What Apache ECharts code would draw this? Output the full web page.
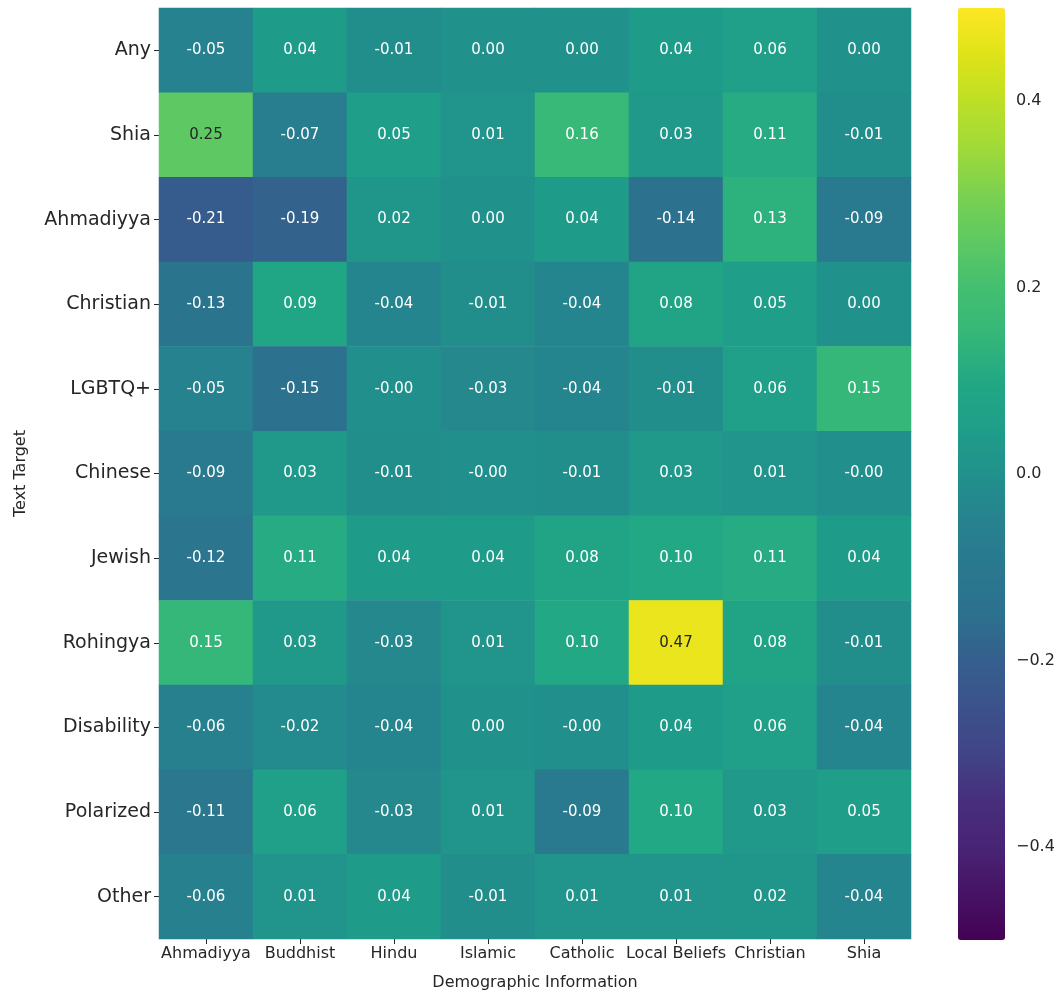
<!DOCTYPE html>
<html>
<head>
<meta charset="utf-8">
<script src="https://cdn.jsdelivr.net/npm/echarts@6/dist/echarts.min.js"></script>
<style>html,body{margin:0;padding:0;background:#fff;}#c{width:1061px;height:996px;}</style>
</head>
<body>
<div id="c"></div>
<script>
const demographics = ['Ahmadiyya', 'Buddhist', 'Hindu', 'Islamic', 'Catholic', 'Local Beliefs', 'Christian', 'Shia'];
const targets = ['Any', 'Shia', 'Ahmadiyya', 'Christian', 'LGBTQ+', 'Chinese', 'Jewish', 'Rohingya', 'Disability', 'Polarized', 'Other'];
const rowAny        = [-0.05,  0.04, -0.01,  0.00,  0.00,  0.04, 0.06,  0.00];
const rowShia       = [ 0.25, -0.07,  0.05,  0.01,  0.16,  0.03, 0.11, -0.01];
const rowAhmadiyya  = [-0.21, -0.19,  0.02,  0.00,  0.04, -0.14, 0.13, -0.09];
const rowChristian  = [-0.13,  0.09, -0.04, -0.01, -0.04,  0.08, 0.05,  0.00];
const rowLGBTQ      = [-0.05, -0.15, -0.002, -0.03, -0.04, -0.01, 0.06,  0.15];
const rowChinese    = [-0.09,  0.03, -0.01, -0.002, -0.01,  0.03, 0.01, -0.002];
const rowJewish     = [-0.12,  0.11,  0.04,  0.04,  0.08,  0.10, 0.11,  0.04];
const rowRohingya   = [ 0.15,  0.03, -0.03,  0.01,  0.10,  0.47, 0.08, -0.01];
const rowDisability = [-0.06, -0.02, -0.04,  0.00, -0.002, 0.04, 0.06, -0.04];
const rowPolarized  = [-0.11,  0.06, -0.03,  0.01, -0.09,  0.10, 0.03,  0.05];
const rowOther      = [-0.06,  0.01,  0.04, -0.01,  0.01,  0.01, 0.02, -0.04];
const colorbarTicks = [-0.4, -0.2, 0.0, 0.2, 0.4];

const rows = [rowAny, rowShia, rowAhmadiyya, rowChristian, rowLGBTQ, rowChinese, rowJewish, rowRohingya, rowDisability, rowPolarized, rowOther];
const viridis = ['#440154','#471365','#482475','#472f7d','#414487','#3b528b','#355f8d','#2c718e','#2a788e','#26828e','#21918c','#1f9e89','#22a884','#35b779','#44bf70','#5ec962','#7ad151','#a0da39','#bddf26','#dfe318','#fde725'];

const data = [];
rows.forEach((r, yi) => r.forEach((v, xi) => {
  data.push({ value: [xi, yi, v], label: { color: v > 0.2 ? '#262626' : '#ffffff' } });
}));

function fmt(v) {
  const s = Math.abs(v).toFixed(2);
  return (v < 0 ? '-' : '') + s;
}
const FONT = 'DejaVu Sans';
const chart = echarts.init(document.getElementById('c'), null, { renderer: 'canvas' });
chart.setOption({
  backgroundColor: '#ffffff',
  animation: false,
  textStyle: { fontFamily: FONT },
  grid: [
    { left: 159, right: 150, top: 8, bottom: 56 },
    { left: 958, width: 47, top: 8, height: 932 }
  ],
  xAxis: [
    {
      type: 'category', data: demographics, gridIndex: 0,
      name: 'Demographic Information', nameLocation: 'middle', nameGap: 36,
      nameTextStyle: { fontSize: 16, color: '#262626', fontFamily: FONT },
      axisLine: { show: false },
      axisTick: { show: true, alignWithLabel: true, length: 5, lineStyle: { color: '#262626' } },
      axisLabel: { fontSize: 16, color: '#262626', margin: 7, fontFamily: FONT, interval: 0 },
      splitLine: { show: false }
    },
    { type: 'value', gridIndex: 1, show: false, min: 0, max: 1 }
  ],
  yAxis: [
    {
      type: 'category', data: targets, gridIndex: 0, inverse: true,
      name: 'Text Target', nameLocation: 'middle', nameGap: 130, nameRotate: 90,
      nameTextStyle: { fontSize: 16, color: '#262626', fontFamily: FONT },
      axisLine: { show: false },
      axisTick: { show: true, alignWithLabel: true, length: 5, lineStyle: { color: '#262626' } },
      axisLabel: { fontSize: 19, color: '#262626', margin: 8, fontFamily: FONT, interval: 0 },
      splitLine: { show: false }
    },
    {
      type: 'value', gridIndex: 1, position: 'right', min: -0.5, max: 0.5,
      axisLine: { show: false },
      splitLine: { show: false },
      axisTick: { show: true, length: 5, lineStyle: { color: '#262626' }, customValues: colorbarTicks },
      axisLabel: {
        fontSize: 16, color: '#262626', margin: 11, fontFamily: FONT, customValues: colorbarTicks,
        formatter: v => (Math.abs(v) < 1e-9 ? '0.0' : (v < 0 ? '\u2212' : '') + Math.abs(v).toFixed(1))
      }
    }
  ],
  visualMap: {
    type: 'continuous', min: -0.5, max: 0.5, seriesIndex: 0,
    orient: 'vertical', left: 958, top: 8, itemWidth: 47, itemHeight: 932,
    padding: 0, calculable: false, text: ['', ''], showLabel: false,
    inRange: { color: viridis }
  },
  series: [{
    type: 'heatmap', xAxisIndex: 0, yAxisIndex: 0, data: data,
    label: { show: true, fontSize: 15, fontFamily: FONT, formatter: p => fmt(p.value[2]) },
    itemStyle: { borderWidth: 0 },
    emphasis: { disabled: true }
  }]
});
</script>
</body>
</html>
